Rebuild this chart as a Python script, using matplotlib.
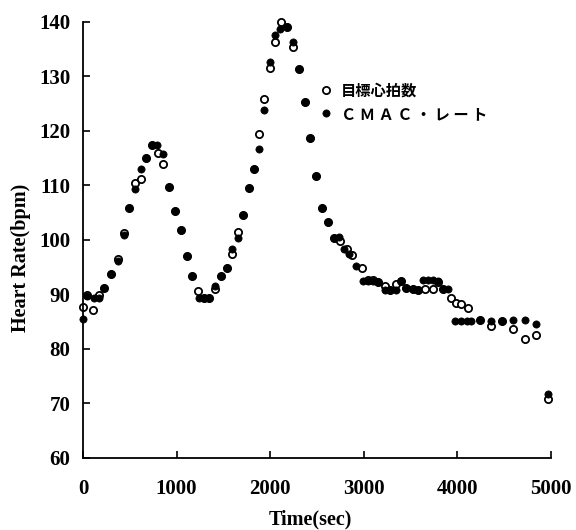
import matplotlib
matplotlib.use("Agg")
import matplotlib.pyplot as plt

# CMAC output (filled markers)
cmac_t = [0, 46, 117, 171, 225, 297, 375, 439, 493, 553, 618, 678, 742, 786, 860,
          921, 985, 1046, 1110, 1170, 1242, 1296, 1350, 1413, 1470, 1535, 1588, 1652,
          1706, 1770, 1831, 1884, 1938, 2002, 2052, 2109, 2177, 2241, 2305, 2373, 2427,
          2491, 2555, 2620, 2687, 2734, 2794, 2840, 2919, 2990, 3044, 3098, 3151, 3223,
          3276, 3348, 3401, 3454, 3526, 3579, 3633, 3686, 3740, 3794, 3847, 3901, 3980,
          4040, 4100, 4150, 4240, 4358, 4479, 4597, 4722, 4839, 4965]
cmac_hr = [85.5, 89.8, 89.4, 89.4, 91.1, 93.7, 96.1, 101.0, 105.8, 109.4, 113.0, 115.0,
           117.4, 117.4, 115.8, 109.7, 105.4, 101.8, 97.0, 93.3, 89.4, 89.4, 89.4, 91.6,
           93.3, 94.9, 98.4, 100.4, 104.5, 109.5, 113.0, 116.7, 123.8, 132.6, 137.6, 138.8,
           139.0, 136.3, 131.3, 125.4, 118.7, 111.7, 105.9, 103.3, 100.3, 100.6, 98.4, 97.5,
           95.3, 92.4, 92.4, 92.4, 92.2, 90.9, 90.9, 90.9, 92.4, 91.2, 91.0, 90.9, 92.6,
           92.6, 92.6, 92.4, 91.0, 91.0, 85.1, 85.1, 85.1, 85.1, 85.4, 85.1, 85.1, 85.3,
           85.3, 84.6, 71.8]

# target heart rate (open markers)
target_t = [0, 46, 110, 171, 225, 297, 375, 439, 493, 557, 618, 678, 742, 803, 860, 921,
            985, 1046, 1110, 1170, 1234, 1296, 1350, 1413, 1470, 1535, 1588, 1652, 1706,
            1770, 1831, 1884, 1930, 2002, 2052, 2115, 2177, 2241, 2305, 2373, 2427, 2491,
            2555, 2620, 2687, 2741, 2819, 2870, 2983, 3044, 3098, 3151, 3223, 3276, 3340,
            3401, 3454, 3526, 3579, 3651, 3740, 3794, 3847, 3937, 3990, 4044, 4115, 4240,
            4358, 4479, 4597, 4722, 4839, 4965]
target_hr = [87.7, 89.9, 87.1, 89.9, 91.1, 93.7, 96.5, 101.3, 105.8, 110.5, 111.2, 115.0,
             117.4, 116.0, 114.0, 109.7, 105.4, 101.8, 97.0, 93.3, 90.6, 89.4, 89.4, 91.0,
             93.3, 94.9, 97.5, 101.4, 104.5, 109.5, 113.0, 119.4, 125.8, 131.5, 136.4, 140.0,
             139.0, 135.5, 131.3, 125.4, 118.7, 111.7, 105.9, 103.3, 100.3, 99.8, 98.4, 97.3,
             94.9, 92.6, 92.6, 92.2, 91.6, 90.9, 92.0, 92.4, 91.2, 91.0, 90.9, 91.0, 91.0,
             92.3, 91.0, 89.4, 88.5, 88.2, 87.6, 85.4, 84.2, 85.1, 83.7, 81.8, 82.5, 70.9]

x_ticks = [0, 1000, 2000, 3000, 4000, 5000]
y_ticks = [60, 70, 80, 90, 100, 110, 120, 130, 140]
label_target = "目標心拍数"
label_cmac = "Ｃ Ｍ Ａ Ｃ ・ レ ー ト"

serif = "Liberation Serif"
cjk = ["Noto Sans CJK JP", "DejaVu Sans"]

fig = plt.figure(figsize=(5.76, 5.30), dpi=100)
ax = fig.add_axes([0.144, 0.136, 0.8125, 0.8225])

h_open, = ax.plot(target_t, target_hr, linestyle="none", marker="o", markersize=5.2,
                  markerfacecolor="white", markeredgecolor="black", markeredgewidth=1.3,
                  zorder=2, clip_on=False)
h_fill, = ax.plot(cmac_t, cmac_hr, linestyle="none", marker="o", markersize=5.2,
                  markerfacecolor="black", markeredgecolor="black", markeredgewidth=0.5,
                  zorder=3, clip_on=False)

ax.set_xlim(0, 5000)
ax.set_ylim(60, 140)
ax.set_xticks(x_ticks)
ax.set_yticks(y_ticks)
ax.spines["top"].set_visible(False)
ax.spines["right"].set_visible(False)
for s in ("left", "bottom"):
    ax.spines[s].set_linewidth(1.3)
ax.tick_params(axis="both", direction="in", length=5, width=1.2)
ax.tick_params(axis="y", pad=9)
ax.tick_params(axis="x", pad=15)
for lab in ax.get_xticklabels() + ax.get_yticklabels():
    lab.set_fontfamily(serif)
    lab.set_fontweight("bold")
    lab.set_fontsize(15)

ax.set_xlabel("Time(sec)", fontfamily=serif, fontweight="bold", fontsize=14.5)
ax.set_ylabel("Heart Rate(bpm)", fontfamily=serif, fontweight="bold", fontsize=14.5)
ax.xaxis.set_label_coords(0.485, -0.118)
ax.yaxis.set_label_coords(-0.11, 0.459)

leg = ax.legend([h_open, h_fill], [label_target, label_cmac], loc="upper left",
                bbox_to_anchor=(0.502, 0.862), frameon=False, borderpad=0, borderaxespad=0,
                handlelength=1.0, handletextpad=0.5, labelspacing=0.5,
                prop={"family": cjk, "weight": "bold", "size": 11})

fig.savefig("out.png", dpi=100)
